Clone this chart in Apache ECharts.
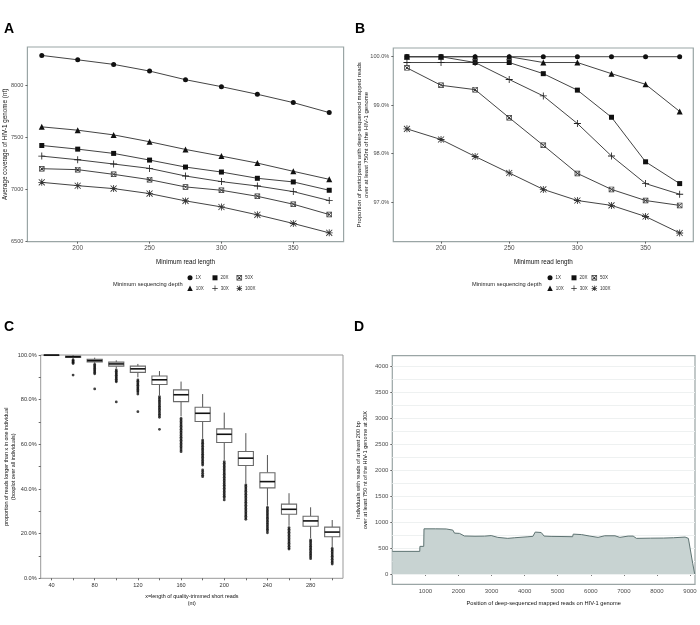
<!DOCTYPE html>
<html><head><meta charset="utf-8">
<script src="https://cdn.jsdelivr.net/npm/echarts@6/dist/echarts.min.js"></script>
<style>html,body{margin:0;padding:0;background:#fff}#c{width:700px;height:625px}</style>
</head><body><div id="c"></div>
<script>
// ---------- DATA ----------
const readLengths = [175, 200, 225, 250, 275, 300, 325, 350, 375];
const depthNames = ['1X', '10X', '20X', '30X', '50X', '100X'];
const legendOrder = ['1X', '20X', '50X', '10X', '30X', '100X'];

// Panel A: average coverage (nt)
const covA_1X   = [8284, 8242, 8198, 8134, 8051, 7984, 7911, 7831, 7735];
const covA_10X  = [7598, 7566, 7521, 7455, 7381, 7317, 7250, 7171, 7094];
const covA_20X  = [7419, 7384, 7343, 7279, 7212, 7164, 7104, 7069, 6989];
const covA_30X  = [7317, 7282, 7241, 7199, 7126, 7072, 7030, 6976, 6890];
const covA_50X  = [7196, 7187, 7142, 7091, 7021, 6989, 6931, 6855, 6756];
const covA_100X = [7065, 7033, 7005, 6957, 6887, 6829, 6753, 6670, 6580];

// Panel B: proportion of participants (%)
const propB_1X   = [100, 100, 100, 100, 100, 100, 100, 100, 100];
const propB_10X  = [100, 100, 100, 100, 99.88, 99.88, 99.65, 99.43, 98.87];
const propB_20X  = [100, 100, 99.88, 99.88, 99.65, 99.31, 98.75, 97.83, 97.38];
const propB_30X  = [99.88, 99.88, 99.88, 99.53, 99.19, 98.62, 97.95, 97.38, 97.16];
const propB_50X  = [99.77, 99.41, 99.32, 98.74, 98.17, 97.59, 97.26, 97.03, 96.93];
const propB_100X = [98.51, 98.29, 97.94, 97.60, 97.26, 97.03, 96.93, 96.70, 96.36];

// Axis ticks
const ticksAx = [200, 250, 300, 350];
const ticksAy = [6500, 7000, 7500, 8000];
const ticksBy = [97, 98, 99, 100];
const ticksDx = [1000, 2000, 3000, 4000, 5000, 6000, 7000, 8000, 9000];
const ticksDy = [0, 500, 1000, 1500, 2000, 2500, 3000, 3500, 4000];
const gridDy  = [0, 250, 500, 750, 1000, 1250, 1500, 1750, 2000, 2250, 2500, 2750, 3000, 3250, 3500, 3750, 4000];

// Panel C: boxplots
const cCats  = ['40','60','80','100','120','140','160','180','200','220','240','260','280','300'];
const cLow   = [99.7, 98.3, 96.3, 94.0, 90.0, 82.0, 72.5, 62.5, 53.0, 42.5, 32.5, 23.5, 18.0, 14.0];
const cQ1    = [99.85, 98.9, 96.9, 95.0, 92.2, 86.8, 79.1, 70.2, 60.8, 50.5, 40.5, 28.7, 23.3, 18.6];
const cMed   = [99.95, 99.2, 97.5, 96.0, 93.8, 88.9, 82.2, 73.9, 64.5, 53.8, 43.3, 30.9, 25.7, 20.7];
const cQ3    = [100, 99.5, 98.1, 96.8, 95.0, 90.6, 84.4, 76.6, 66.9, 56.8, 47.3, 33.2, 27.8, 22.9];
const cHigh  = [100, 100, 98.8, 97.6, 96.0, 92.8, 88.1, 82.5, 74.2, 65.0, 55.2, 38.1, 31.8, 26.1];
const cOut40  = [];
const cOut60  = [97.8, 97.4, 97.0, 96.6, 96.2, 91.0];
const cOut80  = [95.8, 95.2, 94.6, 94.0, 93.4, 92.8, 92.2, 91.6, 84.8];
const cOut100 = [93.3, 92.7, 92.1, 91.5, 90.9, 90.3, 89.7, 89.1, 88.5, 88.0, 79.0];
const cOut120 = [88.8, 88.2, 87.6, 87.0, 86.4, 85.8, 85.2, 84.6, 84.0, 83.4, 82.5, 74.6];
const cOut140 = [81.3, 80.6, 79.9, 79.2, 78.5, 77.8, 77.1, 76.4, 75.7, 75.0, 74.3, 73.5, 72.8, 72.1, 66.7];
const cOut160 = [71.6, 70.9, 70.2, 69.5, 68.8, 68.1, 67.4, 66.7, 66.0, 65.3, 64.6, 63.9, 63.2, 62.5, 61.8, 61.1, 60.4, 59.7, 59.0, 58.3, 57.5, 56.7];
const cOut180 = [61.9, 61.2, 60.5, 59.8, 59.1, 58.4, 57.7, 57.0, 56.3, 55.6, 54.9, 54.2, 53.5, 52.8, 52.1, 51.4, 50.7, 48.5, 47.8, 47.0, 46.2, 45.5];
const cOut200 = [52.2, 51.5, 50.8, 50.1, 49.4, 48.7, 48.0, 47.3, 46.6, 45.9, 45.2, 44.5, 43.8, 43.1, 42.4, 41.7, 41.0, 40.3, 39.6, 38.9, 38.2, 37.5, 36.8, 36.1, 35.1];
const cOut220 = [41.8, 41.1, 40.4, 39.7, 39.0, 38.3, 37.6, 36.9, 36.2, 35.5, 34.8, 34.1, 33.4, 32.7, 32.0, 31.3, 30.6, 29.9, 29.2, 28.5, 27.8, 27.1, 26.4];
const cOut240 = [31.8, 31.1, 30.4, 29.7, 29.0, 28.3, 27.6, 26.9, 26.2, 25.5, 24.8, 24.1, 23.4, 22.7, 22.0, 21.3, 20.4];
const cOut260 = [22.7, 22.0, 21.3, 20.6, 19.9, 19.2, 18.5, 17.8, 17.1, 16.4, 15.7, 15.0, 14.3, 13.6, 13.1];
const cOut280 = [17.2, 16.5, 15.8, 15.1, 14.4, 13.7, 13.0, 12.3, 11.6, 10.9, 10.2, 9.5, 8.8];
const cOut300 = [13.4, 12.7, 12.0, 11.3, 10.6, 9.9, 9.2, 8.5, 7.8, 7.1, 6.4];

// Panel D: coverage profile along genome
const dPos   = [1, 830, 835, 950, 958, 1300, 1630, 1830, 1880, 2030, 2180, 2500, 2790, 2990, 3190, 3490, 3700, 4100, 4250, 4320, 4500, 4590, 4800, 5100, 5450, 5470, 5720, 5970, 6220, 6420, 6730, 6880, 7130, 7280, 7380, 7800, 8200, 8500, 8850, 8950, 9080, 9140];
const dCount = [434, 434, 530, 530, 868, 868, 865, 843, 785, 780, 730, 725, 727, 738, 703, 684, 696, 715, 723, 805, 797, 728, 722, 720, 716, 766, 757, 728, 703, 734, 734, 703, 728, 728, 684, 688, 690, 696, 709, 684, 205, 0];

// ---------- STYLE ----------
const FONT = 'Liberation Sans, Arial, sans-serif';
const SYM = {
  '1X': 'circle',
  '10X': 'triangle',
  '20X': 'rect',
  '30X': 'path://M4.4,0H5.6V4.4H10V5.6H5.6V10H4.4V5.6H0V4.4H4.4Z',
  '50X': 'path://M0,0H10V10H0Z M1.3,1.3V8.7H8.7V1.3Z M1.3,2.2L2.2,1.3L8.7,7.8L7.8,8.7Z M7.8,1.3L8.7,2.2L2.2,8.7L1.3,7.8Z',
  '100X': 'path://M4.4,0H5.6V4.4H10V5.6H5.6V10H4.4V5.6H0V4.4H4.4Z M1.1,0.3L9.7,8.9L8.9,9.7L0.3,1.1Z M8.9,0.3L9.7,1.1L1.1,9.7L0.3,8.9Z'
};
const SSIZE = {'1X': 5, '10X': 6, '20X': 5, '30X': 7, '50X': 5.5, '100X': 7};
const SCOL = {'1X': '#111', '10X': '#111', '20X': '#111', '30X': '#222', '50X': '#333', '100X': '#333'};

const covA = {'1X': covA_1X, '10X': covA_10X, '20X': covA_20X, '30X': covA_30X, '50X': covA_50X, '100X': covA_100X};
const propB = {'1X': propB_1X, '10X': propB_10X, '20X': propB_20X, '30X': propB_30X, '50X': propB_50X, '100X': propB_100X};
const cOutliers = [cOut40, cOut60, cOut80, cOut100, cOut120, cOut140, cOut160, cOut180, cOut200, cOut220, cOut240, cOut260, cOut280, cOut300];

const BORDER = '#9aa5a5';
const plain = v => String(v);
const tickStyle = {show: true, length: 2, lineStyle: {color: '#444', width: 0.8}};
const lblStyle = (fs) => ({color: '#4d4d4d', fontSize: fs, fontFamily: FONT});
const nameStyle = (fs) => ({color: '#111', fontSize: fs, fontFamily: FONT, lineHeight: fs * 1.25});

const series = [];
depthNames.forEach(name => {
  series.push({
    type: 'line', name, xAxisIndex: 0, yAxisIndex: 0,
    data: readLengths.map((x, j) => [x, covA[name][j]]),
    symbol: SYM[name], symbolSize: SSIZE[name], showSymbol: true,
    lineStyle: {color: '#444', width: 1},
    itemStyle: {color: SCOL[name]}, emphasis: {disabled: true}, z: 3
  });
});
depthNames.forEach(name => {
  series.push({
    type: 'line', name, xAxisIndex: 1, yAxisIndex: 1,
    data: readLengths.map((x, j) => [x, propB[name][j]]),
    symbol: SYM[name], symbolSize: SSIZE[name], showSymbol: true,
    lineStyle: {color: '#444', width: 1},
    itemStyle: {color: SCOL[name]}, emphasis: {disabled: true}, z: 3
  });
});

// Panel C boxes
series.push({
  type: 'custom', xAxisIndex: 2, yAxisIndex: 2,
  data: cCats.map((c, i) => [i, cLow[i], cQ1[i], cMed[i], cQ3[i], cHigh[i]]),
  encode: {x: 0, y: [1, 2, 3, 4, 5]},
  renderItem: function (params, api) {
    const i = api.value(0);
    const pL = api.coord([i, api.value(1)]);
    const p1 = api.coord([i, api.value(2)]);
    const pM = api.coord([i, api.value(3)]);
    const p3 = api.coord([i, api.value(4)]);
    const pH = api.coord([i, api.value(5)]);
    const bw = api.size([1, 0])[0] * 0.7;
    const x = pM[0];
    return {type: 'group', children: [
      {type: 'line', shape: {x1: x, y1: pH[1], x2: x, y2: p3[1]}, style: {stroke: '#555', lineWidth: 1}},
      {type: 'line', shape: {x1: x, y1: p1[1], x2: x, y2: pL[1]}, style: {stroke: '#555', lineWidth: 1}},
      {type: 'rect', shape: {x: x - bw / 2, y: p3[1], width: bw, height: Math.max(p1[1] - p3[1], 0.5)}, style: {fill: '#fff', stroke: '#6a6a6a', lineWidth: 1.1}},
      {type: 'line', shape: {x1: x - bw / 2, y1: pM[1], x2: x + bw / 2, y2: pM[1]}, style: {stroke: '#111', lineWidth: 1.6}}
    ]};
  },
  z: 2
});
const outData = [];
cOutliers.forEach((arr, i) => arr.forEach(v => outData.push([i, v])));
series.push({
  type: 'scatter', xAxisIndex: 2, yAxisIndex: 2, data: outData,
  symbol: 'circle', symbolSize: 2.8, itemStyle: {color: '#111'}, emphasis: {disabled: true}, z: 3
});

// Panel D gridlines + area
series.push({
  type: 'line', xAxisIndex: 3, yAxisIndex: 3, data: [], z: 1, silent: true,
  markLine: {silent: true, z: 1, symbol: 'none', label: {show: false}, animation: false,
    lineStyle: {color: '#eef1f1', width: 1, type: 'solid'},
    data: gridDy.map(v => ({yAxis: v}))}
});
series.push({
  type: 'line', xAxisIndex: 3, yAxisIndex: 3,
  data: dPos.map((p, i) => [p, dCount[i]]),
  symbol: 'none', lineStyle: {color: '#5e7372', width: 1},
  areaStyle: {color: '#c8d3d2', opacity: 1}, emphasis: {disabled: true}, z: 6
});

// Legends
function legendsFor(xSyms, yRows) {
  const out = [];
  legendOrder.forEach((name, k) => {
    const col = k % 3, row = Math.floor(k / 3);
    const s = SSIZE[name] > 5.5 ? 5.5 : SSIZE[name];
    out.push({
      left: xSyms[col] - s / 2, top: yRows[row] - s / 2 - 0.5,
      itemWidth: s, itemHeight: s, padding: 0, itemGap: 0, selectedMode: false,
      textStyle: {fontSize: 4.5, color: '#333', fontFamily: FONT, padding: [0, 0, 0, -2]},
      data: [{name, icon: SYM[name]}]
    });
  });
  return out;
}

const gridBase = {show: true, backgroundColor: '#fff', outerBoundsMode: 'none'};
const option = {
  animation: false,
  backgroundColor: '#fff',
  textStyle: {fontFamily: FONT},
  grid: [
    Object.assign({left: 27.4, top: 47, width: 316.2, height: 194.7, borderColor: BORDER, borderWidth: 1.2}, gridBase),
    Object.assign({left: 393.3, top: 48, width: 300, height: 193.7, borderColor: BORDER, borderWidth: 1.2}, gridBase),
    Object.assign({left: 40.7, top: 355, width: 302.3, height: 223.3, borderColor: '#999', borderWidth: 1}, gridBase),
    Object.assign({left: 392.3, top: 355.7, width: 302.7, height: 228.6, borderColor: BORDER, borderWidth: 1.2}, gridBase)
  ],
  xAxis: [
    {type: 'value', gridIndex: 0, min: 165, max: 385, axisLine: {show: false}, splitLine: {show: false},
     axisTick: Object.assign({customValues: ticksAx}, tickStyle),
     axisLabel: Object.assign({customValues: ticksAx, margin: 4, formatter: plain}, lblStyle(6.4)),
     name: 'Minimum read length', nameLocation: 'middle', nameGap: 17, nameMoveOverlap: false, nameTextStyle: nameStyle(6.3)},
    {type: 'value', gridIndex: 1, min: 165, max: 385, axisLine: {show: false}, splitLine: {show: false},
     axisTick: Object.assign({customValues: ticksAx}, tickStyle),
     axisLabel: Object.assign({customValues: ticksAx, margin: 4, formatter: plain}, lblStyle(6.4)),
     name: 'Minimum read length', nameLocation: 'middle', nameGap: 17, nameMoveOverlap: false, nameTextStyle: nameStyle(6.3)},
    {type: 'category', gridIndex: 2, data: cCats, boundaryGap: true, axisLine: {show: false},
     axisTick: {show: true, alignWithLabel: true, interval: 0, length: 2, lineStyle: {color: '#444', width: 0.8}},
     axisLabel: Object.assign({interval: 1, margin: 4}, lblStyle(5.6), {color: '#333'}),
     name: 'x=length of quality-trimmed short reads\n(nt)', nameLocation: 'middle', nameGap: 15, nameMoveOverlap: false, nameTextStyle: nameStyle(5.4)},
    {type: 'value', gridIndex: 3, min: 0, max: 9150, axisLine: {show: false}, splitLine: {show: false},
     axisTick: Object.assign({customValues: ticksDx}, tickStyle),
     axisLabel: Object.assign({customValues: ticksDx, margin: 4, formatter: plain}, lblStyle(6)),
     name: 'Position of deep-sequenced mapped reads on HIV-1 genome', nameLocation: 'middle', nameGap: 16, nameMoveOverlap: false, nameTextStyle: nameStyle(5.7)}
  ],
  yAxis: [
    {type: 'value', gridIndex: 0, min: 6495, max: 8365, axisLine: {show: false}, splitLine: {show: false},
     axisTick: Object.assign({customValues: ticksAy}, tickStyle),
     axisLabel: Object.assign({customValues: ticksAy, margin: 4, formatter: plain}, lblStyle(5.6)),
     name: 'Average coverage of HIV-1 genome (nt)', nameLocation: 'middle', nameGap: 18, nameMoveOverlap: false, nameTextStyle: nameStyle(6.3)},
    {type: 'value', gridIndex: 1, min: 96.18, max: 100.18, axisLine: {show: false}, splitLine: {show: false},
     axisTick: Object.assign({customValues: ticksBy}, tickStyle),
     axisLabel: Object.assign({customValues: ticksBy, margin: 4, formatter: v => v.toFixed(1) + '%'}, lblStyle(5.6)),
     name: 'Proportion of participants with deep-sequenced mapped reads\nover at least 750nt of the HIV-1 genome', nameLocation: 'middle', nameGap: 23, nameMoveOverlap: false, nameTextStyle: nameStyle(6)},
    {type: 'value', gridIndex: 2, min: 0, max: 100, interval: 10, axisLine: {show: false}, splitLine: {show: false},
     axisTick: {show: true, length: 2, lineStyle: {color: '#444', width: 0.8}},
     axisLabel: Object.assign({margin: 4, formatter: v => (v % 20 === 0 ? v.toFixed(1) + '%' : '')}, lblStyle(5.6), {color: '#333'}),
     name: 'proportion of reads longer than x in one individual\n(boxplot over all individuals)', nameLocation: 'middle', nameGap: 24, nameMoveOverlap: false, nameTextStyle: nameStyle(5.4)},
    {type: 'value', gridIndex: 3, min: -200, max: 4200, axisLine: {show: false}, splitLine: {show: false},
     axisTick: Object.assign({customValues: ticksDy}, tickStyle),
     axisLabel: Object.assign({customValues: ticksDy, margin: 4, formatter: plain}, lblStyle(6)),
     name: 'Individuals with reads of at least 200 bp\nover at least 750 nt of the HIV-1 genome at 30X', nameLocation: 'middle', nameGap: 23, nameMoveOverlap: false, nameTextStyle: nameStyle(5.6)}
  ],
  legend: legendsFor([190, 215, 239.3], [278.3, 288.8]).concat(legendsFor([550, 574, 594.3], [278.3, 288.8])),
  graphic: [
    {type: 'text', left: 4, top: 22, style: {text: 'A', font: 'bold 14px ' + FONT, fill: '#000'}},
    {type: 'text', left: 355, top: 22, style: {text: 'B', font: 'bold 14px ' + FONT, fill: '#000'}},
    {type: 'text', left: 4, top: 320, style: {text: 'C', font: 'bold 14px ' + FONT, fill: '#000'}},
    {type: 'text', left: 354, top: 320, style: {text: 'D', font: 'bold 14px ' + FONT, fill: '#000'}},
    {type: 'text', left: 113, top: 281, style: {text: 'Minimum sequencing depth', font: '5.7px ' + FONT, fill: '#222'}},
    {type: 'text', left: 472, top: 281, style: {text: 'Minimum sequencing depth', font: '5.7px ' + FONT, fill: '#222'}}
  ],
  series
};

const chart = echarts.init(document.getElementById('c'), null, {renderer: 'canvas', width: 700, height: 625});
chart.setOption(option);
</script>
</body></html>
